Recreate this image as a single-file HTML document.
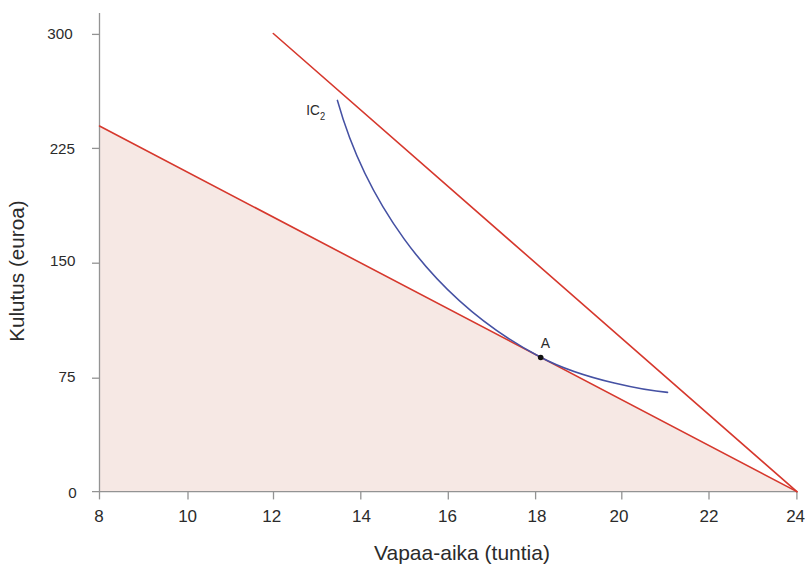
<!DOCTYPE html>
<html><head><meta charset="utf-8">
<style>
html,body{margin:0;padding:0;background:#fff;}
body{width:810px;height:568px;overflow:hidden;position:relative;}
svg{position:absolute;left:0;top:0;}
text{font-family:"Liberation Sans",sans-serif;fill:#2b2b2b;}
</style></head>
<body>
<svg width="810" height="568" viewBox="0 0 810 568">
  <!-- shaded feasible set -->
  <polygon points="99.5,126 796.9,491.6 99.5,491.6" fill="#f6e8e4"/>
  <!-- axes -->
  <g stroke="#939393" stroke-width="1.3" fill="none">
    <line x1="99.5" y1="13" x2="99.5" y2="492"/>
    <line x1="92" y1="491.6" x2="797" y2="491.6"/>
    <!-- y ticks -->
    <line x1="92" y1="34.4" x2="99.5" y2="34.4"/>
    <line x1="92" y1="148.4" x2="99.5" y2="148.4"/>
    <line x1="92" y1="263.2" x2="99.5" y2="263.2"/>
    <line x1="92" y1="378.2" x2="99.5" y2="378.2"/>
    <!-- x ticks -->
    <line x1="99.5" y1="491.6" x2="99.5" y2="499.4"/>
    <line x1="188" y1="491.6" x2="188" y2="499.4"/>
    <line x1="273.5" y1="491.6" x2="273.5" y2="499.4"/>
    <line x1="360.8" y1="491.6" x2="360.8" y2="499.4"/>
    <line x1="448.3" y1="491.6" x2="448.3" y2="499.4"/>
    <line x1="535.6" y1="491.6" x2="535.6" y2="499.4"/>
    <line x1="621.8" y1="491.6" x2="621.8" y2="499.4"/>
    <line x1="709" y1="491.6" x2="709" y2="499.4"/>
    <line x1="796.9" y1="491.6" x2="796.9" y2="499.4"/>
  </g>
  <!-- budget lines -->
  <g stroke="#d6382d" stroke-width="1.6" fill="none" stroke-linecap="round">
    <line x1="99.5" y1="126" x2="796.9" y2="491.6"/>
    <line x1="273.3" y1="33.5" x2="796.9" y2="491.6"/>
  </g>
  <!-- indifference curve -->
  <path d="M337.4,100.4 C362.34,189.06 422.55,295.36 540.60,357.24 C585.25,380.64 650.04,390.94 667.5,392.4" stroke="#4551a3" stroke-width="1.6" fill="none" stroke-linecap="round"/>
  <circle cx="540.7" cy="357.5" r="2.8" fill="#111"/>
  <!-- labels -->
  <g font-size="15.2">
    <text x="72.6" y="39" text-anchor="end">300</text>
    <text x="75" y="154.4" text-anchor="end">225</text>
    <text x="75.4" y="266" text-anchor="end">150</text>
    <text x="75.4" y="381.9" text-anchor="end">75</text>
    <text x="76.6" y="498.1" text-anchor="end">0</text>
  </g>
  <g font-size="17">

    <text x="99" y="521.8" text-anchor="middle">8</text>
    <text x="187.6" y="521.8" text-anchor="middle">10</text>
    <text x="271.8" y="521.8" text-anchor="middle">12</text>
    <text x="361.4" y="521.8" text-anchor="middle">14</text>
    <text x="447.5" y="521.8" text-anchor="middle">16</text>
    <text x="537" y="521.8" text-anchor="middle">18</text>
    <text x="619" y="521.8" text-anchor="middle">20</text>
    <text x="709" y="521.8" text-anchor="middle">22</text>
    <text x="795.6" y="521.8" text-anchor="middle">24</text>
  </g>
  <text transform="translate(545.4,348) scale(0.9,1)" font-size="15.4" text-anchor="middle">A</text>
  <text transform="translate(306.2,114.8) scale(0.88,1)" font-size="15.4">IC<tspan font-size="10.6" dy="4.9" dx="0.3">2</tspan></text>
  <text x="462" y="560.2" font-size="21" text-anchor="middle">Vapaa-aika (tuntia)</text>
  <text transform="translate(23.9,271.1) rotate(-90)" font-size="20.7" text-anchor="middle">Kulutus (euroa)</text>
</svg>
</body></html>
